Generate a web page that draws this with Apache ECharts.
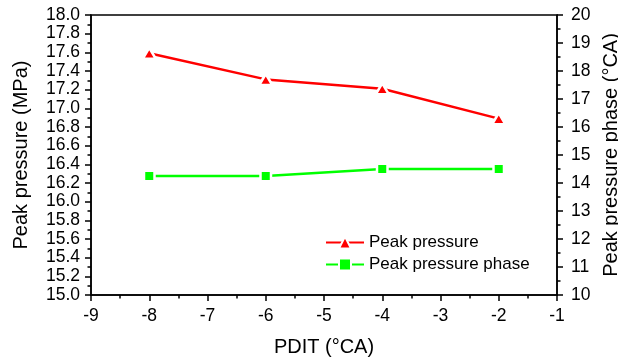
<!DOCTYPE html>
<html>
<head>
<meta charset="utf-8">
<script src="https://cdn.jsdelivr.net/npm/echarts@6/dist/echarts.min.js"></script>
<style>
  html, body { margin: 0; padding: 0; background: #fff; }
  #chart { width: 618px; height: 364px; }
</style>
</head>
<body>
<div id="chart"></div>
<script>
// PDIT sweep (°CA) and measured combustion peaks
const pdit = [-8, -6, -4, -2];
const peakPressure = [17.59, 17.31, 17.21, 16.89];      // MPa, left axis
const peakPressurePhase = [14.25, 14.25, 14.5, 14.5];   // °CA, right axis

const FONT = '"Liberation Sans", Arial, sans-serif';
const AXIS_COLOR = '#000';
const TICK_FONT = 17.5;

function pairs(xs, ys) {
  return xs.map((x, i) => [x, ys[i]]);
}

const chart = echarts.init(document.getElementById('chart'), null, { renderer: 'canvas' });

chart.setOption({
  animation: false,
  backgroundColor: '#fff',
  grid: {
    left: 91, right: 61, top: 15, bottom: 69,
    outerBoundsMode: 'none',
    containLabel: false,
    show: true, borderColor: AXIS_COLOR, borderWidth: 1.5, backgroundColor: 'transparent'
  },
  legend: {
    orient: 'vertical',
    left: 325, top: 234,
    padding: 0,
    itemWidth: 38, itemHeight: 15, itemGap: 5,
    textStyle: { fontFamily: FONT, fontSize: 17, color: '#000', lineHeight: 17 },
    data: ['Peak pressure', 'Peak pressure phase']
  },
  xAxis: {
    type: 'value',
    min: -9, max: -1, interval: 1,
    name: 'PDIT (°CA)',
    nameLocation: 'middle',
    nameGap: 42,
    nameTextStyle: { fontFamily: FONT, fontSize: 20, color: '#000' },
    axisLine: { show: true, onZero: false, lineStyle: { color: AXIS_COLOR, width: 1.5 } },
    axisTick: { show: true, inside: false, length: 6, lineStyle: { color: AXIS_COLOR, width: 1.5 } },
    minorTick: { show: true, splitNumber: 2, length: 3.5, lineStyle: { color: AXIS_COLOR, width: 1.5 } },
    splitLine: { show: false },
    axisLabel: { margin: 12, fontFamily: FONT, fontSize: TICK_FONT, color: '#000' }
  },
  yAxis: [
    {
      type: 'value',
      position: 'left',
      min: 15, max: 18, interval: 0.2,
      name: 'Peak pressure (MPa)',
      nameLocation: 'middle',
      nameGap: 60,
      nameRotate: 90,
      nameTextStyle: { fontFamily: FONT, fontSize: 20, color: '#000' },
      axisLine: { show: true, lineStyle: { color: AXIS_COLOR, width: 1.5 } },
      axisTick: { show: true, inside: false, length: 6, lineStyle: { color: AXIS_COLOR, width: 1.5 } },
      minorTick: { show: true, splitNumber: 2, length: 3.5, lineStyle: { color: AXIS_COLOR, width: 1.5 } },
      splitLine: { show: false },
      axisLabel: {
        margin: 11, fontFamily: FONT, fontSize: TICK_FONT, color: '#000',
        formatter: v => v.toFixed(1)
      }
    },
    {
      type: 'value',
      position: 'right',
      min: 10, max: 20, interval: 1,
      name: 'Peak pressure phase (°CA)',
      nameLocation: 'middle',
      nameGap: 39,
      nameRotate: 90,
      nameTextStyle: { fontFamily: FONT, fontSize: 20, color: '#000' },
      axisLine: { show: true, lineStyle: { color: AXIS_COLOR, width: 1.5 } },
      axisTick: { show: true, inside: false, length: 6, lineStyle: { color: AXIS_COLOR, width: 1.5 } },
      minorTick: { show: true, splitNumber: 2, length: 3.5, lineStyle: { color: AXIS_COLOR, width: 1.5 } },
      splitLine: { show: false },
      axisLabel: { margin: 14, fontFamily: FONT, fontSize: TICK_FONT, color: '#000' }
    }
  ],
  series: [
    {
      name: 'Peak pressure',
      type: 'line',
      yAxisIndex: 0,
      data: pairs(pdit, peakPressure),
      symbol: 'triangle',
      symbolSize: [13, 11],
      showAllSymbol: true,
      lineStyle: { color: '#ff0000', width: 2.5 },
      itemStyle: { color: '#ff0000', borderColor: '#fff', borderWidth: 2.5 },
      z: 3
    },
    {
      name: 'Peak pressure phase',
      type: 'line',
      yAxisIndex: 1,
      data: pairs(pdit, peakPressurePhase),
      symbol: 'rect',
      symbolSize: 10.5,
      showAllSymbol: true,
      lineStyle: { color: '#00ff00', width: 2.5 },
      itemStyle: { color: '#00ff00', borderColor: '#fff', borderWidth: 2.5 },
      z: 3
    }
  ]
});
</script>
</body>
</html>
